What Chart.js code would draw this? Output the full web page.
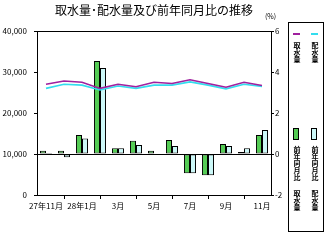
<!DOCTYPE html>
<html>
<head>
<meta charset="utf-8">
<title>取水量･配水量及び前年同月比の推移</title>
<script src="https://cdn.jsdelivr.net/npm/chart.js"></script>
<style>
  body { margin: 0; background: #fff; font-family: "Noto Sans CJK JP", sans-serif; }
  #wrap { position: relative; width: 329px; height: 240px; }
  #title { position: absolute; left: 48px; top: 2px; width: 212px; text-align: center; font-size: 12px; line-height: 16px; color: #000; white-space: nowrap; }
  #unit { position: absolute; left: 265px; top: 11px; font-size: 7px; color: #000; }
  #legend { position: absolute; left: 288px; top: 22px; width: 34px; height: 208px; border: 1px solid #000; }
  .col { position: absolute; top: 0; width: 12px; height: 208px; }
  .dash { position: absolute; top: 10px; left: 2px; width: 7px; height: 2px; }
  .box { position: absolute; top: 105px; left: 2px; width: 4px; height: 10px; border: 1px solid #000; }
  .vt { position: absolute; left: 1px; height: 60px; writing-mode: vertical-rl; font-size: 7px; line-height: 10px; color: #000; font-weight: bold; white-space: nowrap; }
</style>
</head>
<body>
<div id="wrap">
  <canvas id="chart" width="329" height="240"></canvas>
  <div id="title">取水量･配水量及び前年同月比の推移</div>
  <div id="unit">(%)</div>
  <div id="legend">
    <div class="col" style="left:2px">
      <div class="dash" style="background:#a0209e"></div>
      <div class="vt" style="top:19px">取水量</div>
      <div class="box" style="background:#55cc55"></div>
      <div class="vt" style="top:123px">前年同月比</div>
      <div class="vt" style="top:167px">取水量</div>
    </div>
    <div class="col" style="left:20px">
      <div class="dash" style="background:#33ddee"></div>
      <div class="vt" style="top:19px">配水量</div>
      <div class="box" style="background:#ccf8f8"></div>
      <div class="vt" style="top:123px">前年同月比</div>
      <div class="vt" style="top:167px">配水量</div>
    </div>
  </div>
</div>
<script>
  // months 27年11月 - 28年11月
  var months = ['27年11月', '12月', '28年1月', '2月', '3月', '4月', '5月', '6月', '7月', '8月', '9月', '10月', '11月'];
  var intake = [27000, 27800, 27500, 26000, 27000, 26400, 27500, 27200, 28100, 27200, 26300, 27500, 26700];
  var supply = [26000, 27000, 26800, 25600, 26600, 26000, 26800, 26800, 27600, 26800, 25900, 27000, 26500];
  var intakeYoY = [0.16, 0.16, 0.93, 4.54, 0.28, 0.65, 0.16, 0.68, -0.94, -1.04, 0.49, 0.10, 0.93];
  var supplyYoY = [0.05, -0.16, 0.76, 4.20, 0.28, 0.44, 0.02, 0.39, -0.94, -1.04, 0.39, 0.28, 1.17];

  var tickFont = { family: '"Noto Sans CJK JP", sans-serif', size: 8 };

  new Chart(document.getElementById('chart').getContext('2d'), {
    type: 'bar',
    data: {
      labels: months,
      datasets: [
        { type: 'line', label: '取水量', data: intake, yAxisID: 'y', borderColor: '#a0209e', borderWidth: 1.6, pointRadius: 0, tension: 0, order: 1 },
        { type: 'line', label: '配水量', data: supply, yAxisID: 'y', borderColor: '#33ddee', borderWidth: 1.6, pointRadius: 0, tension: 0, order: 2 },
        { label: '前年同月比 取水量', data: intakeYoY, yAxisID: 'y1', backgroundColor: '#55cc55', borderColor: '#000', borderWidth: 1, borderSkipped: false, order: 3 },
        { label: '前年同月比 配水量', data: supplyYoY, yAxisID: 'y1', backgroundColor: '#ccf8f8', borderColor: '#000', borderWidth: 1, borderSkipped: false, order: 4 }
      ]
    },
    options: {
      responsive: false,
      animation: false,
      events: [],
      layout: { padding: { top: 31, left: 0, right: 0, bottom: 0 } },
      datasets: { bar: { categoryPercentage: 0.67, barPercentage: 1.0 } },
      plugins: { legend: { display: false }, title: { display: false }, tooltip: { enabled: false } },
      scales: {
        x: {
          grid: {
            offset: false,
            drawOnChartArea: false,
            tickLength: 4,
            tickColor: function (ctx) { return ctx.index % 2 === 1 ? '#000' : 'rgba(0,0,0,0)'; }
          },
          border: { color: '#000', width: 1 },
          ticks: {
            color: '#000', font: tickFont, autoSkip: false, maxRotation: 0, padding: 2,
            callback: function (v, i) { return i % 2 === 0 ? months[i] : ''; }
          },
          afterFit: function (s) { s.height = 45; }
        },
        y: {
          position: 'left',
          min: 0, max: 40000,
          ticks: { stepSize: 10000, color: '#000', font: tickFont, padding: 7 },
          grid: {
            color: function (ctx) { return (ctx.tick.value === 10000 || ctx.tick.value === 40000) ? '#000' : 'rgba(0,0,0,0)'; },
            tickColor: '#000',
            tickLength: 3
          },
          border: { color: '#000', width: 1 },
          afterFit: function (s) { s.width = 37; }
        },
        y1: {
          position: 'right',
          min: -2, max: 6,
          ticks: { stepSize: 2, color: '#000', font: tickFont, padding: 1 },
          grid: { drawOnChartArea: false, tickColor: '#000', tickLength: 3 },
          border: { color: '#000', width: 1 },
          afterFit: function (s) { s.width = 58; }
        }
      }
    }
  });
</script>
</body>
</html>
